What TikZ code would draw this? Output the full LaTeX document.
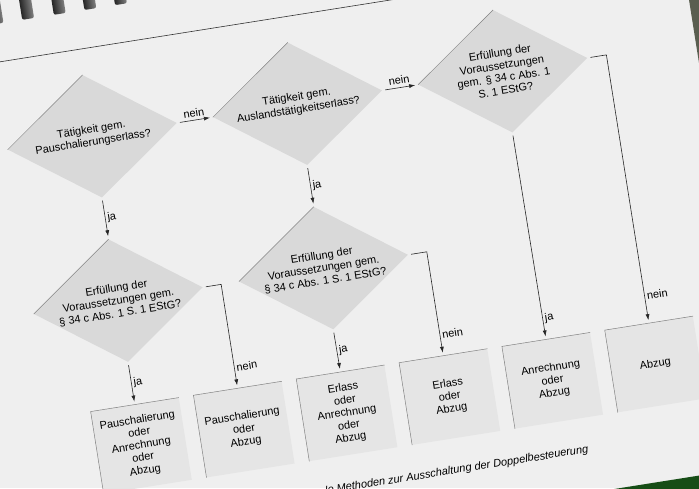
\documentclass[tikz,border=0pt]{standalone}
\usepackage{fontspec}
\setmainfont{Liberation Sans}
\usetikzlibrary{positioning,shapes.geometric,arrows.meta}
\definecolor{pagegray}{HTML}{EFEFEF}
\definecolor{diamondgray}{HTML}{D9D9D9}
\definecolor{boxgray}{HTML}{E5E5E5}
\definecolor{deskgray}{HTML}{5A5E50}
\definecolor{covergreen}{HTML}{164D16}

\begin{document}
\begin{tikzpicture}[x=1pt, y=-1pt,
	question/.style={diamond, fill=diamondgray, minimum width=171pt, minimum height=124pt, inner sep=-12pt, align=center, font=\fontsize{11}{12.7}\selectfont},
	outcome/.style={rectangle, fill=boxgray, minimum width=89pt, minimum height=83pt, inner sep=0pt, align=center, font=\fontsize{11}{12.7}\selectfont},
	flow/.style={-{Latex[length=6pt,width=4pt]}, draw=black!85, line width=0.6pt, shorten <=3pt, shorten >=3pt},
	answer/.style={inner sep=2pt, font=\fontsize{11}{12.7}\selectfont},
	rim/.style={draw=black!50, line width=0.5pt},
	caption/.style={inner sep=0pt, font=\fontsize{11}{13}\selectfont\itshape}]

	\useasboundingbox (0,0) rectangle (699,488);
	\clip (0,0) rectangle (699,488);
	\fill[pagegray] (0,0) rectangle (699,488);

	\begin{scope}[transform canvas={shift={(92.3,136.3)}, rotate=9}]
		\fill[deskgray] (610.7,-300) rectangle (1000,700);
		\fill[covergreen] (-300,430) rectangle (1000,700);
		\foreach \u in {-76,-45,-13,18,49,80}
			\shade[left color=black!85, right color=black!50, rounded corners=2pt] (\u-6,-126) rectangle (\u+6,-180);
		\draw[black!80, line width=0.6pt] (-300,-88) -- (1000,-88);

		\node[question] (lump) at (0,0) {Tätigkeit gem.\\Pauschalierungserlass?};
		\node[question, right=36.4pt of lump] (abroad) {Tätigkeit gem.\\Auslandstätigkeitserlass?};
		\node[question, right=36.4pt of abroad] (reqtop) {Erfüllung der\\Voraussetzungen\\gem. § 34 c Abs. 1\\S. 1 EStG?};
		\node[question, below=42pt of lump] (reqleft) {Erfüllung der\\Voraussetzungen gem.\\§ 34 c Abs. 1 S. 1 EStG?};
		\node[question, below=42pt of abroad] (reqmid) {Erfüllung der\\Voraussetzungen gem.\\§ 34 c Abs. 1 S. 1 EStG?};

		\node[outcome, below=43pt of reqleft] (out1) {Pauschalierung\\oder\\Anrechnung\\oder\\Abzug};
		\node[outcome, right=14.7pt of out1] (out2) {Pauschalierung\\oder\\Abzug};
		\node[outcome, right=14.7pt of out2] (out3) {Erlass\\oder\\Anrechnung\\oder\\Abzug};
		\node[outcome, right=14.7pt of out3] (out4) {Erlass\\oder\\Abzug};
		\node[outcome, right=14.7pt of out4] (out5) {Anrechnung\\oder\\Abzug};
		\node[outcome, right=14.7pt of out5] (out6) {Abzug};

		\foreach \q in {lump,abroad,reqtop,reqleft,reqmid}
			\draw[rim] (\q.west) -- (\q.north);
		\foreach \r in {out1,out2,out3,out4,out5,out6}
			\draw[rim] (\r.south west) -- (\r.north west) -- (\r.north east);

		\draw[flow] (lump.east) -- node[answer, above=1pt]{nein} (abroad.west);
		\draw[flow] (abroad.east) -- node[answer, above=1pt]{nein} (reqtop.west);
		\draw[flow] (lump.south) -- node[answer, right]{ja} (reqleft.north);
		\draw[flow] (abroad.south) -- node[answer, right]{ja} (reqmid.north);
		\draw[flow] (reqleft.south) -- node[answer, right]{ja} (out1.north);
		\draw[flow] (reqleft.east) -| node[answer, right, pos=0.9]{nein} (out2.north);
		\draw[flow] (reqmid.south) -- node[answer, right]{ja} (out3.north);
		\draw[flow] (reqmid.east) -| node[answer, right, pos=0.9]{nein} (out4.north);
		\draw[flow] (reqtop.south) -- node[answer, right, pos=0.9]{ja} (out5.north);
		\draw[flow] (reqtop.east) -| node[answer, right, pos=0.95]{nein} (out6.north);

		\node[caption, anchor=east] (cap) at (441,387) {le Methoden zur Ausschaltung der Doppelbesteuerung};
	\end{scope}
\end{tikzpicture}
\end{document}
